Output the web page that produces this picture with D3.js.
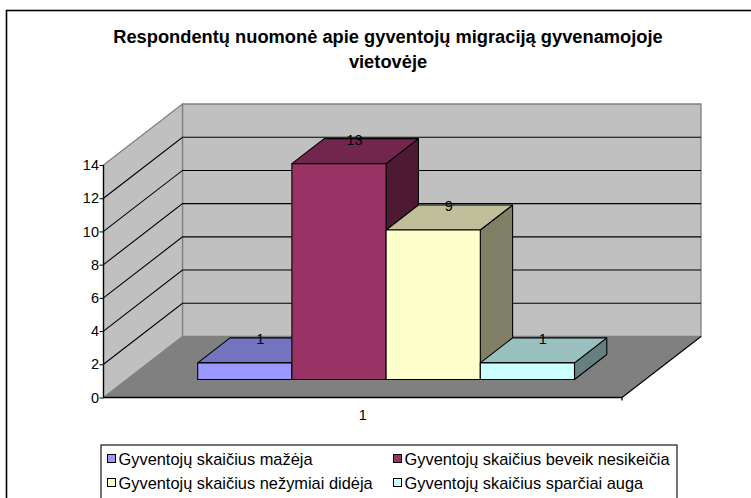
<!DOCTYPE html>
<html><head><meta charset="utf-8">
<script src="https://cdn.jsdelivr.net/npm/d3@7"></script>
<style>html,body{margin:0;padding:0;background:#fff}svg{display:block}text{font-family:"Liberation Sans",Arial,sans-serif;fill:#000}</style>
</head><body><svg id="c" width="751" height="498"></svg>
<script>
const titleLines = ["Respondentų nuomonė apie gyventojų migraciją gyvenamojoje", "vietovėje"];
const seriesNames = ["Gyventojų skaičius mažėja", "Gyventojų skaičius beveik nesikeičia", "Gyventojų skaičius nežymiai didėja", "Gyventojų skaičius sparčiai auga"];
const seriesValues = [1, 13, 9, 1];
const seriesFront = ["#9999ff", "#993366", "#ffffcc", "#ccffff"];
const seriesTop = ["#7373bf", "#73264d", "#bfbf99", "#99bfbf"];
const seriesSide = ["#4d4d80", "#4d1933", "#808066", "#668080"];
const yTicks = [0, 2, 4, 6, 8, 10, 12, 14];
const categories = ["1"];

const svg = d3.select("#c");
const deep = [79, -61], barDeep = [32.3, -25];
const y = d3.scaleLinear().domain([0, 14]).range([397.5, 165]);
const barY = d3.scaleLinear().domain([0, 14]).range([379.5, 147]);
const x0 = d3.scaleBand().domain(categories).range([103.5, 622]);
const bx = d3.scaleBand().domain(d3.range(seriesValues.length)).range([197.7, 574.5]);
const path = pts => "M" + pts.map(p => p.join(",")).join("L") + "Z";

svg.append("rect").attr("x", 6.5).attr("y", 10.5).attr("width", 760).attr("height", 500)
  .attr("fill", "#fff").attr("stroke", "#000").attr("stroke-width", 1.6);

svg.append("g").selectAll("text").data(titleLines).join("text")
  .attr("x", 388).attr("y", (d, i) => 43 + i * 25).attr("text-anchor", "middle")
  .attr("font-size", 18.3).attr("font-weight", "bold").text(d => d);

const [L, R] = x0.range(), B = y(0), T = y(14);
const walled = s => s.attr("stroke", "#808080").attr("stroke-width", 1.3);
walled(svg.append("path").attr("d", path([[L + deep[0], T + deep[1]], [R + deep[0], T + deep[1]], [R + deep[0], B + deep[1]], [L + deep[0], B + deep[1]]])).attr("fill", "#c0c0c0"));
walled(svg.append("path").attr("d", path([[L, T], [L + deep[0], T + deep[1]], [L + deep[0], B + deep[1]], [L, B]])).attr("fill", "#c0c0c0"));
svg.append("path").attr("d", path([[L, B], [L + deep[0], B + deep[1]], [R + deep[0], B + deep[1]], [R, B]])).attr("fill", "#808080");

svg.append("g").selectAll("path").data(yTicks.filter(t => t > 0 && t < 14)).join("path")
  .attr("fill", "none").attr("stroke", "#000").attr("stroke-width", 1.1)
  .attr("d", t => `M${L},${y(t)}L${L + deep[0]},${y(t) + deep[1]}L${R + deep[0]},${y(t) + deep[1]}`);
svg.append("path").attr("fill", "none").attr("stroke", "#000").attr("stroke-width", 1.1)
  .attr("d", `M${R},${B}L${R + deep[0]},${B + deep[1]}`);

const yAxis = d3.axisLeft(y).tickValues(yTicks).tickSize(4).tickPadding(0.5);
const gy = svg.append("g").attr("transform", `translate(${L},0)`).call(yAxis);
const xAxis = d3.axisBottom(x0).tickSize(0).tickPadding(12);
const gx = svg.append("g").attr("transform", `translate(0,${B})`).call(xAxis);
[gy, gx].forEach(g => {
  g.selectAll("path.domain").attr("stroke", "#000").attr("stroke-width", 1.3);
  g.selectAll(".tick line").attr("stroke", "#000");
  g.selectAll("text").attr("font-size", 14.5).attr("font-family", '"Liberation Sans",Arial,sans-serif').attr("fill", "#000");
});
gy.select("path.domain").attr("d", `M0,${T}V${B}`);
gx.select("path.domain").attr("d", `M${L},0H${R}V3`);

seriesValues.forEach((v, i) => {
  const a = bx(i), b = a + bx.bandwidth(), t = barY(v), o = barY(0);
  const g = svg.append("g").attr("stroke", "#000").attr("stroke-width", 1.1).attr("stroke-linejoin", "round");
  g.append("path").attr("fill", seriesSide[i]).attr("d", path([[b, o], [b + barDeep[0], o + barDeep[1]], [b + barDeep[0], t + barDeep[1]], [b, t]]));
  g.append("path").attr("fill", seriesTop[i]).attr("d", path([[a, t], [a + barDeep[0], t + barDeep[1]], [b + barDeep[0], t + barDeep[1]], [b, t]]));
  g.append("path").attr("fill", seriesFront[i]).attr("d", path([[a, o], [a, t], [b, t], [b, o]]));
});
svg.append("g").selectAll("text").data(seriesValues).join("text")
  .attr("x", (d, i) => bx(i) + bx.bandwidth() / 2 + 15.5)
  .attr("y", d => barY(d) - 19).attr("text-anchor", "middle").attr("font-size", 14.5).text(d => d);

const lx = 101, ly = 445;
svg.append("rect").attr("x", lx).attr("y", ly).attr("width", 576).attr("height", 70).attr("fill", "#fff").attr("stroke", "#000").attr("stroke-width", 1.1);
const lg = svg.append("g").selectAll("g").data(seriesNames).join("g")
  .attr("transform", (d, i) => `translate(${lx + 6.5 + (i % 2) * 286},${ly + 14 + Math.floor(i / 2) * 24})`);
lg.append("rect").attr("width", 8).attr("height", 8).attr("y", -4.5).attr("fill", (d, i) => seriesFront[i]).attr("stroke", "#000");
lg.append("text").attr("x", 11).attr("y", 5.5).attr("font-size", 16.4).text(d => d);
</script></body></html>
